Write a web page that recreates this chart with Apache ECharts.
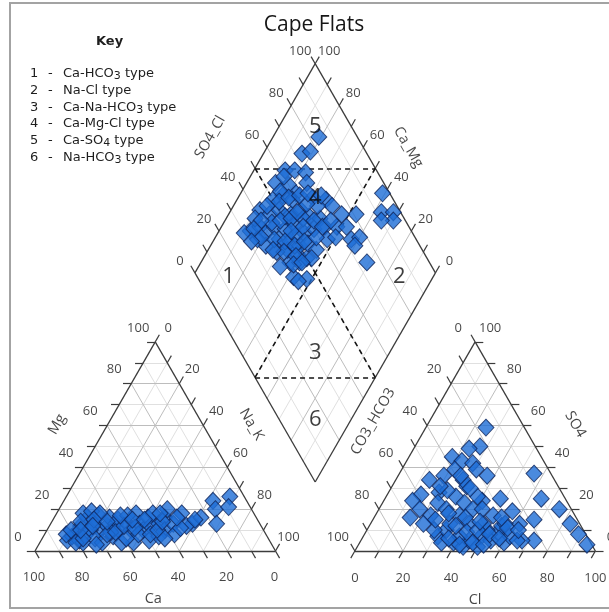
<!DOCTYPE html>
<html><head><meta charset="utf-8">
<script src="https://cdn.jsdelivr.net/npm/echarts@6/dist/echarts.min.js"></script>
<style>html,body{margin:0;padding:0;background:#fff}#c{width:609px;height:612px}</style>
</head><body><div id="c"></div>
<script>
// ---------------- DATA (percent of meq/L) ----------------
// Cation triangle: Ca and Mg (Na_K = 100 - Ca - Mg)
const cationCa = [84,81,79,75,79,75,78,70,69,65,68,72,72,64,61,60,64,60,58,55,55,57,49,50,50,45,46,42,42,38,41,35,36,38,30,28,23,14,15,18,6,9,71,67,64,70,62,50,45,31,53,81,64,53,
                  83,80,77,74,73,68,66,63,62,59,57,56,53,52,48,47,44,43,40,39,34,33,26,76,70];
const cationMg = [5,7,8,12,5,8,4,16,13,17,10,10,6,12,16,13,7,10,15,13,10,4,18,13,10,16,12,18,13,16,10,20,13,8,18,13,16,24,20,13,26,21,18,19,18,4,4,5,7,12,17,4,9,8,
                  8,10,6,14,3,15,8,14,9,6,12,17,11,15,8,15,10,6,14,18,11,16,15,10,12];
// Anion triangle: Cl and SO4 (CO3_HCO3 = 100 - Cl - SO4)
const anionCl  = [25,27,23,18,23,28,37,31,14,19,22,21,14,12,15,17,23,23,28,29,31,34,39,41,48,56,62,56,65,67,75,83,89,95,72,67,31,33,39,44,45,49,54,55,60,61,65,34,40,50,50,55,33,41,47,49,56,28,22,35,43,24,28,
                  26,30,36,38,42,46,52,58,63,36,42,47,52,57,38,33,26,20,45,53];
const anionSO4 = [59,50,49,45,43,42,36,39,34,36,39,28,27,24,16,20,17,23,20,26,31,23,20,24,25,19,13,37,25,15,20,13,8,3,5,5,7,10,4,2,5,7,5,9,4,7,5,4,7,2,10,12,13,13,13,17,13,10,13,17,20,29,34,
                  15,18,12,16,9,10,8,11,10,6,3,4,3,6,26,30,36,31,14,16];
// Diamond: SO4_Cl and Ca_Mg
const diamondSO4Cl = [84,73,77,62,66,70,55,60,68,61,55,50,67,72,73,42,45,50,54,59,61,65,81,33,30,38,39,44,48,53,55,60,65,70,74,73,77,73,74,97,92,97,95,90,40,42,46,44,47,50,39,36,34,43,47,50,63,67,37,45,51,51,44,67,38,55,58,63,54,56,75,
                      40,46,52,57,62,48,53,58,41,36,45,50,56,62,48,53,42,38,64,69,59,46,52,43,57,66,71,35,31,60,47,41];
const diamondCaMg  = [81,84,81,87,83,78,88,82,75,77,82,85,69,63,59,88,83,80,74,71,66,61,47,87,89,84,80,78,73,70,64,61,57,52,48,43,40,40,31,41,37,32,30,35,58,63,59,67,62,57,71,77,82,73,68,63,53,50,66,52,76,67,80,65,88,84,77,70,60,55,53,
                      85,86,82,79,75,77,73,68,75,81,70,70,66,63,65,62,68,73,58,56,58,62,55,61,72,72,66,86,84,86,58,55];

const tickValues = [0, 20, 40, 60, 80, 100];
const keyNumbers = ['1','2','3','4','5','6'];
const keyTexts = ['Ca-HCO3 type','Na-Cl type','Ca-Na-HCO3 type','Ca-Mg-Cl type','Ca-SO4 type','Na-HCO3 type'];

// ---------------- LAYOUT ----------------
const W = 609, HT = 612, PX0 = 35, PY0 = 551, KX = 2.405, KY = 2.415;
const H = Math.sqrt(3) / 2, GAP = 33, TL = 3.4;
const BX = 100 + GAP / 2, BY = GAP * H;
const cat = (ca, mg) => { const na = 100 - ca - mg; return [na + mg / 2, mg * H]; };
const an = (cl, so4) => [100 + GAP + cl + so4 / 2, so4 * H];
const dia = (s, c) => [BX + (s - c) / 2, BY + (s + c) * H];

const seg = (a, b) => ({ coords: [a, b] });
const tk = (p, d) => seg(p, [p[0] + d[0] * TL, p[1] + d[1] * TL]);

const minor = [], major = [], edges = [], ticks = [], dashed = [];
for (let v = 10; v <= 90; v += 10) {
  const arr = (v % 20 === 0) ? major : minor;
  arr.push(seg(cat(100 - v, v), cat(0, v)));
  arr.push(seg(cat(v, 0), cat(v, 100 - v)));
  arr.push(seg(cat(100 - v, 0), cat(0, 100 - v)));
  arr.push(seg(an(0, v), an(100 - v, v)));
  arr.push(seg(an(v, 0), an(v, 100 - v)));
  arr.push(seg(an(100 - v, 0), an(0, 100 - v)));
  arr.push(seg(dia(v, 0), dia(v, 100)));
  arr.push(seg(dia(0, v), dia(100, v)));
}
edges.push(seg(cat(100, 0), cat(0, 0)), seg(cat(0, 0), cat(0, 100)), seg(cat(0, 100), cat(100, 0)));
edges.push(seg(an(0, 0), an(100, 0)), seg(an(100, 0), an(0, 100)), seg(an(0, 100), an(0, 0)));
edges.push(seg(dia(0, 0), dia(100, 0)), seg(dia(100, 0), dia(100, 100)), seg(dia(100, 100), dia(0, 100)), seg(dia(0, 100), dia(0, 0)));
for (let v = 0; v <= 100; v += 10) {
  ticks.push(tk(cat(100 - v, v), [-1, 0]));
  ticks.push(tk(cat(0, 100 - v), [0.5, H]));
  ticks.push(tk(cat(v, 0), [0.5, -H]));
  ticks.push(tk(an(v, 0), [-0.5, -H]));
  ticks.push(tk(an(0, 100 - v), [-0.5, H]));
  ticks.push(tk(an(100 - v, v), [1, 0]));
  ticks.push(tk(dia(v, 100), [-0.5, H]));
  ticks.push(tk(dia(100, v), [0.5, H]));
}
dashed.push(seg(dia(50, 100), dia(100, 50)), seg(dia(50, 100), dia(50, 50)), seg(dia(100, 50), dia(50, 50)));
dashed.push(seg(dia(0, 50), dia(50, 0)), seg(dia(0, 50), dia(50, 50)), seg(dia(50, 0), dia(50, 50)));

// label helper: offset given in screen pixels, converted into the rotated label frame
const labItem = (p, t, off, rot) => {
  const th = (rot || 0) * Math.PI / 180, c = Math.cos(th), s = Math.sin(th);
  const o = [off[0] * c - off[1] * s, off[0] * s + off[1] * c];
  return { value: p, name: String(t), label: { offset: o, rotate: rot || 0 } };
};
const tickLabels = [];
tickValues.forEach(v => {
  tickLabels.push(labItem(cat(100 - v, v), v, [-17, -14]));
  tickLabels.push(labItem(cat(0, 100 - v), v, [13, -14]));
  tickLabels.push(labItem(cat(v, 0), v, [-1, 26]));
  tickLabels.push(labItem(an(0, 100 - v), v, [-17, -14]));
  tickLabels.push(labItem(an(100 - v, v), v, [15, -14]));
  tickLabels.push(labItem(an(v, 0), v, [0, 27]));
  tickLabels.push(labItem(dia(v, 100), v, [-15, -12]));
  tickLabels.push(labItem(dia(100, v), v, [14, -12]));
});
const axisTitles = [
  labItem(cat(50, 0), 'Ca', [-2, 48], 0),
  labItem(cat(50, 50), 'Mg', [-38, -22], 60),
  labItem(cat(0, 50), 'Na_K', [36, -22], -60),
  labItem(an(50, 0), 'Cl', [0, 49], 0),
  labItem(an(0, 50), 'CO3_HCO3', [-42, -25], 60),
  labItem(an(50, 50), 'SO4', [40, -22], -60),
  labItem(dia(50, 100), 'SO4_Cl', [-45, -31], 60),
  labItem(dia(100, 50), 'Ca_Mg', [33, -21], -60)
];
const zonePos = [[13, 85], [84, 14], [31, 31], [68, 68], [85, 85], [15, 15]];
const zoneLabels = keyNumbers.map((n, i) => labItem(dia(zonePos[i][0], zonePos[i][1]), n, [0, 0], 0));

const cationPts = cationCa.map((ca, i) => cat(ca, cationMg[i]));
const anionPts = anionCl.map((cl, i) => an(cl, anionSO4[i]));
const diamondPts = diamondSO4Cl.map((s, i) => dia(s, diamondCaMg[i]));

const linesSeries = (data, color, width, type, z) => ({
  type: 'lines', coordinateSystem: 'cartesian2d', polyline: false, data, silent: true, clip: false, z,
  lineStyle: { color, width, type: type || 'solid', opacity: 1, curveness: 0 }, effect: { show: false }
});
const ptStyle = { color: '#1d6dd6', borderColor: '#10265a', borderWidth: 1 };
const ptSeries = (data) => ({ type: 'scatter', data, symbol: 'diamond', symbolSize: [16, 17], itemStyle: ptStyle, clip: false, z: 10, silent: true });
const textSeries = (data, fontSize, z, color) => ({
  type: 'scatter', data, symbolSize: 1, itemStyle: { color: 'rgba(0,0,0,0)' }, clip: false, z, silent: true,
  label: { show: true, position: 'inside', formatter: '{b}', fontSize, fontFamily: 'Open Sans', color: color || '#161616' }
});

const FONTK = 'DejaVu Sans';
const base = { fontFamily: FONTK, fontWeight: 'normal', color: '#1e1e1e' };
const rich = {
  n: Object.assign({ width: 18, fontSize: 13, lineHeight: 16 }, base),
  d: Object.assign({ width: 15, fontSize: 13, lineHeight: 16 }, base),
  t: Object.assign({ fontSize: 13, lineHeight: 16 }, base),
  s: Object.assign({ fontSize: 11, lineHeight: 10, verticalAlign: 'bottom' }, base)
};
const titles = [{ text: 'Key', left: 96, top: 34, padding: 0, textStyle: { fontFamily: FONTK, fontWeight: 'bold', fontSize: 13, color: '#1e1e1e', lineHeight: 16 } }];
keyTexts.forEach((t, i) => {
  const body = '{t|' + t.replace(/([A-Z])(\d)/g, '$1}{s|$2}{t|') + '}';
  titles.push({ text: '{n|' + keyNumbers[i] + '}{d|-}' + body, left: 30, top: 66 + i * 16.7, padding: 0,
    textStyle: { rich, fontFamily: FONTK, fontSize: 13, fontWeight: 'normal', color: '#1e1e1e' } });
});

const chart = echarts.init(document.getElementById('c'), null, { renderer: 'canvas' });
chart.setOption({
  animation: false,
  backgroundColor: '#ffffff',
  title: titles,
  grid: { left: 0, right: 0, top: 0, bottom: 0, containLabel: false },
  xAxis: { type: 'value', min: -PX0 / KX, max: (W - PX0) / KX, show: false },
  yAxis: { type: 'value', min: -(HT - PY0) / KY, max: PY0 / KY, show: false },
  graphic: [
    { type: 'rect', shape: { x: 10, y: 3, width: 650, height: 605 }, style: { fill: 'none', stroke: '#a3a3a3', lineWidth: 2 }, silent: true, z: 0 },
    { type: 'text', x: 314, y: 25, style: { text: 'Cape Flats', fontSize: 21, fontFamily: 'Open Sans', fill: '#161616', textAlign: 'center', textVerticalAlign: 'middle', align: 'center', verticalAlign: 'middle' }, z: 5 }
  ],
  series: [
    linesSeries(minor, '#e0e0e0', 1, 'solid', 1),
    linesSeries(major, '#bdbdbd', 1, 'solid', 2),
    linesSeries(edges, '#3c3c3c', 1.3, 'solid', 3),
    linesSeries(ticks, '#3c3c3c', 1.2, 'solid', 3),
    linesSeries(dashed, '#151515', 1.6, [5, 4], 4),
    ptSeries(cationPts),
    ptSeries(anionPts),
    ptSeries(diamondPts),
    textSeries(tickLabels, 13, 12),
    textSeries(axisTitles, 14.5, 12),
    textSeries(zoneLabels, 22, 13, '#0d0d0d')
  ]
});
</script></body></html>
